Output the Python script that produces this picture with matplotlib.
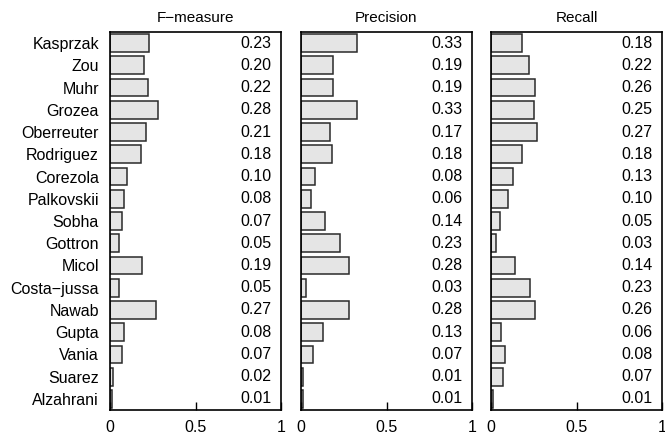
import matplotlib.pyplot as plt
import numpy as np

plt.rcParams['font.family'] = ['Liberation Sans', 'DejaVu Sans']

names = ['Kasprzak', 'Zou', 'Muhr', 'Grozea', 'Oberreuter', 'Rodriguez',
         'Corezola', 'Palkovskii', 'Sobha', 'Gottron', 'Micol', 'Costa\u2212jussa',
         'Nawab', 'Gupta', 'Vania', 'Suarez', 'Alzahrani']
fmeasure = [0.23, 0.20, 0.22, 0.28, 0.21, 0.18, 0.10, 0.08, 0.07, 0.05,
            0.19, 0.05, 0.27, 0.08, 0.07, 0.02, 0.01]
precision = [0.33, 0.19, 0.19, 0.33, 0.17, 0.18, 0.08, 0.06, 0.14, 0.23,
             0.28, 0.03, 0.28, 0.13, 0.07, 0.01, 0.01]
recall = [0.18, 0.22, 0.26, 0.25, 0.27, 0.18, 0.13, 0.10, 0.05, 0.03,
          0.14, 0.23, 0.26, 0.06, 0.08, 0.07, 0.01]
titles = ['F\u2212measure', 'Precision', 'Recall']

fig = plt.figure(figsize=(6.65, 4.37), dpi=100)
lefts = [110, 301, 491]
width = 171
y = np.arange(len(names))[::-1]
fs = 11.5

for i, (vals, title) in enumerate(zip([fmeasure, precision, recall], titles)):
    ax = fig.add_axes([lefts[i] / 665, 1 - 410 / 437, width / 665, 378 / 437])
    ax.barh(y, vals, height=0.8, color='#e5e5e5', edgecolor='#2a2a2a', linewidth=1.1)
    for yy, v in zip(y, vals):
        ax.text(0.945, yy, f'{v:.2f}', ha='right', va='center', fontsize=fs)
    ax.set_xlim(0, 1)
    ax.set_ylim(-0.5, len(names) - 0.5)
    ax.set_xticks([0, 0.5, 1])
    ax.set_xticklabels(['0', '0.5', '1'])
    ax.tick_params(axis='x', direction='in', length=6, width=1, labelsize=fs, pad=7)
    ax.tick_params(axis='y', length=0, labelsize=fs, pad=8)
    if i == 0:
        ax.set_yticks(y)
        ax.set_yticklabels(names)
    else:
        ax.set_yticks([])
    for s in ax.spines.values():
        s.set_linewidth(1.2)
    ax.set_title(title, fontsize=11, pad=7)

fig.savefig('out.png', dpi=100)
